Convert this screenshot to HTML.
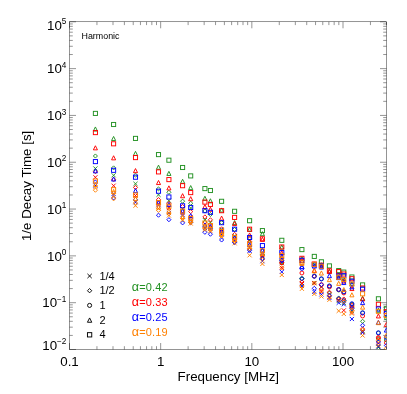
<!DOCTYPE html><html><head><meta charset="utf-8"><style>html,body{margin:0;padding:0;background:#fff;overflow:hidden}svg{position:absolute;left:0;top:0;will-change:transform;-webkit-font-smoothing:antialiased}</style></head><body><svg width="407" height="394" viewBox="0 0 407 394" style="display:block"><rect x="0" y="0" width="407" height="394" fill="#fff"/><g stroke="#000" stroke-width="0.42" fill="none"><rect x="69.5" y="21.8" width="317.0" height="327.7"/><path d="M69.5 349.50h6.5M386.5 349.50h-6.5"/><path d="M69.5 335.41h3.3M386.5 335.41h-3.3"/><path d="M69.5 327.16h3.3M386.5 327.16h-3.3"/><path d="M69.5 321.31h3.3M386.5 321.31h-3.3"/><path d="M69.5 316.78h3.3M386.5 316.78h-3.3"/><path d="M69.5 313.07h3.3M386.5 313.07h-3.3"/><path d="M69.5 309.94h3.3M386.5 309.94h-3.3"/><path d="M69.5 307.22h3.3M386.5 307.22h-3.3"/><path d="M69.5 304.83h3.3M386.5 304.83h-3.3"/><path d="M69.5 302.69h6.5M386.5 302.69h-6.5"/><path d="M69.5 288.59h3.3M386.5 288.59h-3.3"/><path d="M69.5 280.35h3.3M386.5 280.35h-3.3"/><path d="M69.5 274.50h3.3M386.5 274.50h-3.3"/><path d="M69.5 269.96h3.3M386.5 269.96h-3.3"/><path d="M69.5 266.26h3.3M386.5 266.26h-3.3"/><path d="M69.5 263.12h3.3M386.5 263.12h-3.3"/><path d="M69.5 260.41h3.3M386.5 260.41h-3.3"/><path d="M69.5 258.01h3.3M386.5 258.01h-3.3"/><path d="M69.5 255.87h6.5M386.5 255.87h-6.5"/><path d="M69.5 241.78h3.3M386.5 241.78h-3.3"/><path d="M69.5 233.54h3.3M386.5 233.54h-3.3"/><path d="M69.5 227.69h3.3M386.5 227.69h-3.3"/><path d="M69.5 223.15h3.3M386.5 223.15h-3.3"/><path d="M69.5 219.44h3.3M386.5 219.44h-3.3"/><path d="M69.5 216.31h3.3M386.5 216.31h-3.3"/><path d="M69.5 213.59h3.3M386.5 213.59h-3.3"/><path d="M69.5 211.20h3.3M386.5 211.20h-3.3"/><path d="M69.5 209.06h6.5M386.5 209.06h-6.5"/><path d="M69.5 194.96h3.3M386.5 194.96h-3.3"/><path d="M69.5 186.72h3.3M386.5 186.72h-3.3"/><path d="M69.5 180.87h3.3M386.5 180.87h-3.3"/><path d="M69.5 176.34h3.3M386.5 176.34h-3.3"/><path d="M69.5 172.63h3.3M386.5 172.63h-3.3"/><path d="M69.5 169.49h3.3M386.5 169.49h-3.3"/><path d="M69.5 166.78h3.3M386.5 166.78h-3.3"/><path d="M69.5 164.38h3.3M386.5 164.38h-3.3"/><path d="M69.5 162.24h6.5M386.5 162.24h-6.5"/><path d="M69.5 148.15h3.3M386.5 148.15h-3.3"/><path d="M69.5 139.91h3.3M386.5 139.91h-3.3"/><path d="M69.5 134.06h3.3M386.5 134.06h-3.3"/><path d="M69.5 129.52h3.3M386.5 129.52h-3.3"/><path d="M69.5 125.81h3.3M386.5 125.81h-3.3"/><path d="M69.5 122.68h3.3M386.5 122.68h-3.3"/><path d="M69.5 119.97h3.3M386.5 119.97h-3.3"/><path d="M69.5 117.57h3.3M386.5 117.57h-3.3"/><path d="M69.5 115.43h6.5M386.5 115.43h-6.5"/><path d="M69.5 101.34h3.3M386.5 101.34h-3.3"/><path d="M69.5 93.09h3.3M386.5 93.09h-3.3"/><path d="M69.5 87.24h3.3M386.5 87.24h-3.3"/><path d="M69.5 82.71h3.3M386.5 82.71h-3.3"/><path d="M69.5 79.00h3.3M386.5 79.00h-3.3"/><path d="M69.5 75.87h3.3M386.5 75.87h-3.3"/><path d="M69.5 73.15h3.3M386.5 73.15h-3.3"/><path d="M69.5 70.76h3.3M386.5 70.76h-3.3"/><path d="M69.5 68.61h6.5M386.5 68.61h-6.5"/><path d="M69.5 54.52h3.3M386.5 54.52h-3.3"/><path d="M69.5 46.28h3.3M386.5 46.28h-3.3"/><path d="M69.5 40.43h3.3M386.5 40.43h-3.3"/><path d="M69.5 35.89h3.3M386.5 35.89h-3.3"/><path d="M69.5 32.19h3.3M386.5 32.19h-3.3"/><path d="M69.5 29.05h3.3M386.5 29.05h-3.3"/><path d="M69.5 26.34h3.3M386.5 26.34h-3.3"/><path d="M69.5 23.94h3.3M386.5 23.94h-3.3"/><path d="M69.5 21.80h6.5M386.5 21.80h-6.5"/><path d="M69.50 21.8v6.5M69.50 349.5v-6.5"/><path d="M96.94 21.8v3.3M96.94 349.5v-3.3"/><path d="M113.00 21.8v3.3M113.00 349.5v-3.3"/><path d="M124.39 21.8v3.3M124.39 349.5v-3.3"/><path d="M133.22 21.8v3.3M133.22 349.5v-3.3"/><path d="M140.44 21.8v3.3M140.44 349.5v-3.3"/><path d="M146.55 21.8v3.3M146.55 349.5v-3.3"/><path d="M151.83 21.8v3.3M151.83 349.5v-3.3"/><path d="M156.50 21.8v3.3M156.50 349.5v-3.3"/><path d="M160.67 21.8v6.5M160.67 349.5v-6.5"/><path d="M188.11 21.8v3.3M188.11 349.5v-3.3"/><path d="M204.17 21.8v3.3M204.17 349.5v-3.3"/><path d="M215.56 21.8v3.3M215.56 349.5v-3.3"/><path d="M224.39 21.8v3.3M224.39 349.5v-3.3"/><path d="M231.61 21.8v3.3M231.61 349.5v-3.3"/><path d="M237.71 21.8v3.3M237.71 349.5v-3.3"/><path d="M243.00 21.8v3.3M243.00 349.5v-3.3"/><path d="M247.66 21.8v3.3M247.66 349.5v-3.3"/><path d="M251.83 21.8v6.5M251.83 349.5v-6.5"/><path d="M279.28 21.8v3.3M279.28 349.5v-3.3"/><path d="M295.33 21.8v3.3M295.33 349.5v-3.3"/><path d="M306.72 21.8v3.3M306.72 349.5v-3.3"/><path d="M315.56 21.8v3.3M315.56 349.5v-3.3"/><path d="M322.78 21.8v3.3M322.78 349.5v-3.3"/><path d="M328.88 21.8v3.3M328.88 349.5v-3.3"/><path d="M334.17 21.8v3.3M334.17 349.5v-3.3"/><path d="M338.83 21.8v3.3M338.83 349.5v-3.3"/><path d="M343.00 21.8v6.5M343.00 349.5v-6.5"/><path d="M370.45 21.8v3.3M370.45 349.5v-3.3"/><path d="M386.50 21.8v3.3M386.50 349.5v-3.3"/></g><g font-family="Liberation Sans, sans-serif" fill="#000"><text x="69.50" y="366" font-size="13.33" text-anchor="middle">0.1</text><text x="160.67" y="366" font-size="13.33" text-anchor="middle">1</text><text x="251.83" y="366" font-size="13.33" text-anchor="middle">10</text><text x="343.00" y="366" font-size="13.33" text-anchor="middle">100</text><text x="228.3" y="381" font-size="13.33" text-anchor="middle">Frequency [MHz]</text><text transform="translate(31,185.9) rotate(-90)" font-size="13.33" text-anchor="middle">1/e Decay Time [s]</text><text x="66.4" y="349.80" font-size="13.33" text-anchor="end">10<tspan font-size="8.2" dy="-5.7">−2</tspan></text><text x="66.4" y="307.49" font-size="13.33" text-anchor="end">10<tspan font-size="8.2" dy="-5.7">−1</tspan></text><text x="66.4" y="260.67" font-size="13.33" text-anchor="end">10<tspan font-size="8.2" dy="-5.7">0</tspan></text><text x="66.4" y="213.86" font-size="13.33" text-anchor="end">10<tspan font-size="8.2" dy="-5.7">1</tspan></text><text x="66.4" y="167.04" font-size="13.33" text-anchor="end">10<tspan font-size="8.2" dy="-5.7">2</tspan></text><text x="66.4" y="120.23" font-size="13.33" text-anchor="end">10<tspan font-size="8.2" dy="-5.7">3</tspan></text><text x="66.4" y="73.41" font-size="13.33" text-anchor="end">10<tspan font-size="8.2" dy="-5.7">4</tspan></text><text x="66.4" y="29.80" font-size="13.33" text-anchor="end">10<tspan font-size="8.2" dy="-5.7">5</tspan></text><text x="81.5" y="39" font-size="8.9">Harmonic</text><text x="99.4" y="279.80" font-size="11">1/4</text><text x="99.4" y="294.42" font-size="11">1/2</text><text x="99.4" y="309.04" font-size="11">1</text><text x="99.4" y="323.66" font-size="11">2</text><text x="99.4" y="338.28" font-size="11">4</text><text x="131.8" y="290.70" font-size="11" letter-spacing="0.13" fill="#229022"><tspan font-size="12.6">α</tspan>=0.42</text><text x="131.8" y="305.80" font-size="11" letter-spacing="0.13" fill="#ff0000"><tspan font-size="12.6">α</tspan>=0.33</text><text x="131.8" y="320.90" font-size="11" letter-spacing="0.13" fill="#0000ff"><tspan font-size="12.6">α</tspan>=0.25</text><text x="131.8" y="336.00" font-size="11" letter-spacing="0.13" fill="#ff8000"><tspan font-size="12.6">α</tspan>=0.19</text></g><path d="M87.45 273.85L91.75 278.15M87.45 278.15L91.75 273.85" stroke="#000" stroke-width="0.95" fill="none"/><path d="M87.45 290.70L89.60 288.55L91.75 290.70L89.60 292.85z" stroke="#000" stroke-width="0.95" fill="none"/><circle cx="89.60" cy="305.40" r="2.04" stroke="#000" stroke-width="0.95" fill="none"/><path d="M87.45 322.25h4.30L89.60 317.95z" stroke="#000" stroke-width="0.95" fill="none"/><rect x="87.45" y="332.65" width="4.30" height="4.30" stroke="#000" stroke-width="0.95" fill="none"/><clipPath id="cp"><rect x="69.5" y="21.8" width="317.0" height="327.7"/></clipPath><g clip-path="url(#cp)"><path d="M93.35 166.45L97.45 170.55M93.35 170.55L97.45 166.45" stroke="#229022" stroke-width="0.95" fill="none"/><path d="M111.55 173.25L115.65 177.35M111.55 177.35L115.65 173.25" stroke="#229022" stroke-width="0.95" fill="none"/><path d="M133.45 181.75L137.55 185.85M133.45 185.85L137.55 181.75" stroke="#229022" stroke-width="0.95" fill="none"/><path d="M156.45 192.75L160.55 196.85M156.45 196.85L160.55 192.75" stroke="#229022" stroke-width="0.95" fill="none"/><path d="M166.85 198.65L170.95 202.75M166.85 202.75L170.95 198.65" stroke="#229022" stroke-width="0.95" fill="none"/><path d="M180.55 206.85L184.65 210.95M180.55 210.95L184.65 206.85" stroke="#229022" stroke-width="0.95" fill="none"/><path d="M188.65 205.95L192.75 210.05M188.65 210.05L192.75 205.95" stroke="#229022" stroke-width="0.95" fill="none"/><path d="M202.85 218.05L206.95 222.15M202.85 222.15L206.95 218.05" stroke="#229022" stroke-width="0.95" fill="none"/><path d="M208.35 220.75L212.45 224.85M208.35 224.85L212.45 220.75" stroke="#229022" stroke-width="0.95" fill="none"/><path d="M219.55 227.45L223.65 231.55M219.55 231.55L223.65 227.45" stroke="#229022" stroke-width="0.95" fill="none"/><path d="M232.55 233.95L236.65 238.05M232.55 238.05L236.65 233.95" stroke="#229022" stroke-width="0.95" fill="none"/><path d="M247.55 238.55L251.65 242.65M247.55 242.65L251.65 238.55" stroke="#229022" stroke-width="0.95" fill="none"/><path d="M260.35 253.95L264.45 258.05M260.35 258.05L264.45 253.95" stroke="#229022" stroke-width="0.95" fill="none"/><path d="M279.75 260.95L283.85 265.05M279.75 265.05L283.85 260.95" stroke="#229022" stroke-width="0.95" fill="none"/><path d="M299.85 281.95L303.95 286.05M299.85 286.05L303.95 281.95" stroke="#229022" stroke-width="0.95" fill="none"/><path d="M312.25 280.95L316.35 285.05M312.25 285.05L316.35 280.95" stroke="#229022" stroke-width="0.95" fill="none"/><path d="M319.35 284.75L323.45 288.85M319.35 288.85L323.45 284.75" stroke="#229022" stroke-width="0.95" fill="none"/><path d="M336.65 298.95L340.75 303.05M336.65 303.05L340.75 298.95" stroke="#229022" stroke-width="0.95" fill="none"/><path d="M341.75 300.95L345.85 305.05M341.75 305.05L345.85 300.95" stroke="#229022" stroke-width="0.95" fill="none"/><path d="M349.85 308.95L353.95 313.05M349.85 313.05L353.95 308.95" stroke="#229022" stroke-width="0.95" fill="none"/><path d="M360.55 328.95L364.65 333.05M360.55 333.05L364.65 328.95" stroke="#229022" stroke-width="0.95" fill="none"/><path d="M376.35 345.35L380.45 349.45M376.35 349.45L380.45 345.35" stroke="#229022" stroke-width="0.95" fill="none"/><path d="M93.35 156.00L95.40 153.95L97.45 156.00L95.40 158.05z" stroke="#229022" stroke-width="0.95" fill="none"/><path d="M111.55 167.90L113.60 165.85L115.65 167.90L113.60 169.95z" stroke="#229022" stroke-width="0.95" fill="none"/><path d="M133.45 175.20L135.50 173.15L137.55 175.20L135.50 177.25z" stroke="#229022" stroke-width="0.95" fill="none"/><path d="M156.45 188.90L158.50 186.85L160.55 188.90L158.50 190.95z" stroke="#229022" stroke-width="0.95" fill="none"/><path d="M166.85 192.30L168.90 190.25L170.95 192.30L168.90 194.35z" stroke="#229022" stroke-width="0.95" fill="none"/><path d="M180.55 201.20L182.60 199.15L184.65 201.20L182.60 203.25z" stroke="#229022" stroke-width="0.95" fill="none"/><path d="M188.65 203.30L190.70 201.25L192.75 203.30L190.70 205.35z" stroke="#229022" stroke-width="0.95" fill="none"/><path d="M202.85 211.00L204.90 208.95L206.95 211.00L204.90 213.05z" stroke="#229022" stroke-width="0.95" fill="none"/><path d="M208.35 214.50L210.40 212.45L212.45 214.50L210.40 216.55z" stroke="#229022" stroke-width="0.95" fill="none"/><path d="M219.55 222.70L221.60 220.65L223.65 222.70L221.60 224.75z" stroke="#229022" stroke-width="0.95" fill="none"/><path d="M232.55 229.50L234.60 227.45L236.65 229.50L234.60 231.55z" stroke="#229022" stroke-width="0.95" fill="none"/><path d="M247.55 238.00L249.60 235.95L251.65 238.00L249.60 240.05z" stroke="#229022" stroke-width="0.95" fill="none"/><path d="M260.35 254.50L262.40 252.45L264.45 254.50L262.40 256.55z" stroke="#229022" stroke-width="0.95" fill="none"/><path d="M279.75 262.80L281.80 260.75L283.85 262.80L281.80 264.85z" stroke="#229022" stroke-width="0.95" fill="none"/><path d="M299.85 278.90L301.90 276.85L303.95 278.90L301.90 280.95z" stroke="#229022" stroke-width="0.95" fill="none"/><path d="M327.35 293.00L329.40 290.95L331.45 293.00L329.40 295.05z" stroke="#229022" stroke-width="0.95" fill="none"/><path d="M336.65 298.00L338.70 295.95L340.75 298.00L338.70 300.05z" stroke="#229022" stroke-width="0.95" fill="none"/><path d="M341.75 300.50L343.80 298.45L345.85 300.50L343.80 302.55z" stroke="#229022" stroke-width="0.95" fill="none"/><path d="M349.85 306.80L351.90 304.75L353.95 306.80L351.90 308.85z" stroke="#229022" stroke-width="0.95" fill="none"/><path d="M360.55 321.30L362.60 319.25L364.65 321.30L362.60 323.35z" stroke="#229022" stroke-width="0.95" fill="none"/><path d="M376.35 339.00L378.40 336.95L380.45 339.00L378.40 341.05z" stroke="#229022" stroke-width="0.95" fill="none"/><circle cx="301.90" cy="278.60" r="1.95" stroke="#229022" stroke-width="0.95" fill="none"/><circle cx="314.30" cy="276.00" r="1.95" stroke="#229022" stroke-width="0.95" fill="none"/><circle cx="321.40" cy="278.90" r="1.95" stroke="#229022" stroke-width="0.95" fill="none"/><circle cx="329.40" cy="286.00" r="1.95" stroke="#229022" stroke-width="0.95" fill="none"/><circle cx="338.70" cy="290.00" r="1.95" stroke="#229022" stroke-width="0.95" fill="none"/><circle cx="343.80" cy="291.90" r="1.95" stroke="#229022" stroke-width="0.95" fill="none"/><circle cx="351.90" cy="304.30" r="1.95" stroke="#229022" stroke-width="0.95" fill="none"/><circle cx="362.60" cy="312.90" r="1.95" stroke="#229022" stroke-width="0.95" fill="none"/><circle cx="378.40" cy="333.00" r="1.95" stroke="#229022" stroke-width="0.95" fill="none"/><circle cx="386.40" cy="339.90" r="1.95" stroke="#229022" stroke-width="0.95" fill="none"/><path d="M93.35 131.05h4.10L95.40 126.95z" stroke="#229022" stroke-width="0.95" fill="none"/><path d="M111.55 140.55h4.10L113.60 136.45z" stroke="#229022" stroke-width="0.95" fill="none"/><path d="M133.45 155.45h4.10L135.50 151.35z" stroke="#229022" stroke-width="0.95" fill="none"/><path d="M156.45 169.25h4.10L158.50 165.15z" stroke="#229022" stroke-width="0.95" fill="none"/><path d="M166.85 175.45h4.10L168.90 171.35z" stroke="#229022" stroke-width="0.95" fill="none"/><path d="M180.55 183.35h4.10L182.60 179.25z" stroke="#229022" stroke-width="0.95" fill="none"/><path d="M188.65 189.65h4.10L190.70 185.55z" stroke="#229022" stroke-width="0.95" fill="none"/><path d="M202.85 200.35h4.10L204.90 196.25z" stroke="#229022" stroke-width="0.95" fill="none"/><path d="M208.35 202.85h4.10L210.40 198.75z" stroke="#229022" stroke-width="0.95" fill="none"/><path d="M219.55 212.05h4.10L221.60 207.95z" stroke="#229022" stroke-width="0.95" fill="none"/><path d="M232.55 224.65h4.10L234.60 220.55z" stroke="#229022" stroke-width="0.95" fill="none"/><path d="M247.55 231.35h4.10L249.60 227.25z" stroke="#229022" stroke-width="0.95" fill="none"/><path d="M260.35 235.75h4.10L262.40 231.65z" stroke="#229022" stroke-width="0.95" fill="none"/><path d="M279.75 249.05h4.10L281.80 244.95z" stroke="#229022" stroke-width="0.95" fill="none"/><path d="M299.85 260.55h4.10L301.90 256.45z" stroke="#229022" stroke-width="0.95" fill="none"/><path d="M312.25 266.05h4.10L314.30 261.95z" stroke="#229022" stroke-width="0.95" fill="none"/><path d="M319.35 266.85h4.10L321.40 262.75z" stroke="#229022" stroke-width="0.95" fill="none"/><path d="M327.35 273.05h4.10L329.40 268.95z" stroke="#229022" stroke-width="0.95" fill="none"/><path d="M336.65 277.05h4.10L338.70 272.95z" stroke="#229022" stroke-width="0.95" fill="none"/><path d="M341.75 281.05h4.10L343.80 276.95z" stroke="#229022" stroke-width="0.95" fill="none"/><path d="M349.85 285.85h4.10L351.90 281.75z" stroke="#229022" stroke-width="0.95" fill="none"/><path d="M360.55 300.35h4.10L362.60 296.25z" stroke="#229022" stroke-width="0.95" fill="none"/><path d="M376.35 312.25h4.10L378.40 308.15z" stroke="#229022" stroke-width="0.95" fill="none"/><path d="M384.35 319.55h4.10L386.40 315.45z" stroke="#229022" stroke-width="0.95" fill="none"/><rect x="93.35" y="111.35" width="4.10" height="4.10" stroke="#229022" stroke-width="0.95" fill="none"/><rect x="111.55" y="122.45" width="4.10" height="4.10" stroke="#229022" stroke-width="0.95" fill="none"/><rect x="133.45" y="136.35" width="4.10" height="4.10" stroke="#229022" stroke-width="0.95" fill="none"/><rect x="156.45" y="152.55" width="4.10" height="4.10" stroke="#229022" stroke-width="0.95" fill="none"/><rect x="166.85" y="158.15" width="4.10" height="4.10" stroke="#229022" stroke-width="0.95" fill="none"/><rect x="180.55" y="165.45" width="4.10" height="4.10" stroke="#229022" stroke-width="0.95" fill="none"/><rect x="188.65" y="173.85" width="4.10" height="4.10" stroke="#229022" stroke-width="0.95" fill="none"/><rect x="202.85" y="186.55" width="4.10" height="4.10" stroke="#229022" stroke-width="0.95" fill="none"/><rect x="208.35" y="188.45" width="4.10" height="4.10" stroke="#229022" stroke-width="0.95" fill="none"/><rect x="219.55" y="199.25" width="4.10" height="4.10" stroke="#229022" stroke-width="0.95" fill="none"/><rect x="232.55" y="209.25" width="4.10" height="4.10" stroke="#229022" stroke-width="0.95" fill="none"/><rect x="247.55" y="218.65" width="4.10" height="4.10" stroke="#229022" stroke-width="0.95" fill="none"/><rect x="260.35" y="228.55" width="4.10" height="4.10" stroke="#229022" stroke-width="0.95" fill="none"/><rect x="279.75" y="238.25" width="4.10" height="4.10" stroke="#229022" stroke-width="0.95" fill="none"/><rect x="299.85" y="247.55" width="4.10" height="4.10" stroke="#229022" stroke-width="0.95" fill="none"/><rect x="312.25" y="254.35" width="4.10" height="4.10" stroke="#229022" stroke-width="0.95" fill="none"/><rect x="319.35" y="259.75" width="4.10" height="4.10" stroke="#229022" stroke-width="0.95" fill="none"/><rect x="327.35" y="263.85" width="4.10" height="4.10" stroke="#229022" stroke-width="0.95" fill="none"/><rect x="336.65" y="268.55" width="4.10" height="4.10" stroke="#229022" stroke-width="0.95" fill="none"/><rect x="341.75" y="270.05" width="4.10" height="4.10" stroke="#229022" stroke-width="0.95" fill="none"/><rect x="349.85" y="274.95" width="4.10" height="4.10" stroke="#229022" stroke-width="0.95" fill="none"/><rect x="360.55" y="282.85" width="4.10" height="4.10" stroke="#229022" stroke-width="0.95" fill="none"/><rect x="376.35" y="296.75" width="4.10" height="4.10" stroke="#229022" stroke-width="0.95" fill="none"/><rect x="384.35" y="306.65" width="4.10" height="4.10" stroke="#229022" stroke-width="0.95" fill="none"/><path d="M93.35 175.25L97.45 179.35M93.35 179.35L97.45 175.25" stroke="#ff0000" stroke-width="0.95" fill="none"/><path d="M111.55 183.65L115.65 187.75M111.55 187.75L115.65 183.65" stroke="#ff0000" stroke-width="0.95" fill="none"/><path d="M133.45 193.45L137.55 197.55M133.45 197.55L137.55 193.45" stroke="#ff0000" stroke-width="0.95" fill="none"/><path d="M156.45 201.95L160.55 206.05M156.45 206.05L160.55 201.95" stroke="#ff0000" stroke-width="0.95" fill="none"/><path d="M166.85 205.95L170.95 210.05M166.85 210.05L170.95 205.95" stroke="#ff0000" stroke-width="0.95" fill="none"/><path d="M180.55 210.95L184.65 215.05M180.55 215.05L184.65 210.95" stroke="#ff0000" stroke-width="0.95" fill="none"/><path d="M188.65 214.95L192.75 219.05M188.65 219.05L192.75 214.95" stroke="#ff0000" stroke-width="0.95" fill="none"/><path d="M202.85 221.95L206.95 226.05M202.85 226.05L206.95 221.95" stroke="#ff0000" stroke-width="0.95" fill="none"/><path d="M208.35 223.95L212.45 228.05M208.35 228.05L212.45 223.95" stroke="#ff0000" stroke-width="0.95" fill="none"/><path d="M219.55 229.95L223.65 234.05M219.55 234.05L223.65 229.95" stroke="#ff0000" stroke-width="0.95" fill="none"/><path d="M232.55 236.95L236.65 241.05M232.55 241.05L236.65 236.95" stroke="#ff0000" stroke-width="0.95" fill="none"/><path d="M247.55 245.45L251.65 249.55M247.55 249.55L251.65 245.45" stroke="#ff0000" stroke-width="0.95" fill="none"/><path d="M260.35 255.45L264.45 259.55M260.35 259.55L264.45 255.45" stroke="#ff0000" stroke-width="0.95" fill="none"/><path d="M279.75 265.75L283.85 269.85M279.75 269.85L283.85 265.75" stroke="#ff0000" stroke-width="0.95" fill="none"/><path d="M299.85 281.15L303.95 285.25M299.85 285.25L303.95 281.15" stroke="#ff0000" stroke-width="0.95" fill="none"/><path d="M312.25 281.15L316.35 285.25M312.25 285.25L316.35 281.15" stroke="#ff0000" stroke-width="0.95" fill="none"/><path d="M319.35 289.75L323.45 293.85M319.35 293.85L323.45 289.75" stroke="#ff0000" stroke-width="0.95" fill="none"/><path d="M327.35 294.95L331.45 299.05M327.35 299.05L331.45 294.95" stroke="#ff0000" stroke-width="0.95" fill="none"/><path d="M336.65 297.95L340.75 302.05M336.65 302.05L340.75 297.95" stroke="#ff0000" stroke-width="0.95" fill="none"/><path d="M341.75 308.35L345.85 312.45M341.75 312.45L345.85 308.35" stroke="#ff0000" stroke-width="0.95" fill="none"/><path d="M349.85 310.45L353.95 314.55M349.85 314.55L353.95 310.45" stroke="#ff0000" stroke-width="0.95" fill="none"/><path d="M360.55 329.95L364.65 334.05M360.55 334.05L364.65 329.95" stroke="#ff0000" stroke-width="0.95" fill="none"/><path d="M376.35 341.15L380.45 345.25M376.35 345.25L380.45 341.15" stroke="#ff0000" stroke-width="0.95" fill="none"/><path d="M93.35 171.60L95.40 169.55L97.45 171.60L95.40 173.65z" stroke="#ff0000" stroke-width="0.95" fill="none"/><path d="M111.55 179.30L113.60 177.25L115.65 179.30L113.60 181.35z" stroke="#ff0000" stroke-width="0.95" fill="none"/><path d="M133.45 187.50L135.50 185.45L137.55 187.50L135.50 189.55z" stroke="#ff0000" stroke-width="0.95" fill="none"/><path d="M156.45 199.60L158.50 197.55L160.55 199.60L158.50 201.65z" stroke="#ff0000" stroke-width="0.95" fill="none"/><path d="M166.85 203.50L168.90 201.45L170.95 203.50L168.90 205.55z" stroke="#ff0000" stroke-width="0.95" fill="none"/><path d="M180.55 206.50L182.60 204.45L184.65 206.50L182.60 208.55z" stroke="#ff0000" stroke-width="0.95" fill="none"/><path d="M188.65 211.60L190.70 209.55L192.75 211.60L190.70 213.65z" stroke="#ff0000" stroke-width="0.95" fill="none"/><path d="M202.85 216.90L204.90 214.85L206.95 216.90L204.90 218.95z" stroke="#ff0000" stroke-width="0.95" fill="none"/><path d="M208.35 219.80L210.40 217.75L212.45 219.80L210.40 221.85z" stroke="#ff0000" stroke-width="0.95" fill="none"/><path d="M219.55 228.80L221.60 226.75L223.65 228.80L221.60 230.85z" stroke="#ff0000" stroke-width="0.95" fill="none"/><path d="M232.55 234.40L234.60 232.35L236.65 234.40L234.60 236.45z" stroke="#ff0000" stroke-width="0.95" fill="none"/><path d="M247.55 241.50L249.60 239.45L251.65 241.50L249.60 243.55z" stroke="#ff0000" stroke-width="0.95" fill="none"/><path d="M260.35 256.00L262.40 253.95L264.45 256.00L262.40 258.05z" stroke="#ff0000" stroke-width="0.95" fill="none"/><path d="M279.75 263.00L281.80 260.95L283.85 263.00L281.80 265.05z" stroke="#ff0000" stroke-width="0.95" fill="none"/><path d="M299.85 282.00L301.90 279.95L303.95 282.00L301.90 284.05z" stroke="#ff0000" stroke-width="0.95" fill="none"/><path d="M312.25 276.30L314.30 274.25L316.35 276.30L314.30 278.35z" stroke="#ff0000" stroke-width="0.95" fill="none"/><path d="M319.35 289.00L321.40 286.95L323.45 289.00L321.40 291.05z" stroke="#ff0000" stroke-width="0.95" fill="none"/><path d="M327.35 292.20L329.40 290.15L331.45 292.20L329.40 294.25z" stroke="#ff0000" stroke-width="0.95" fill="none"/><path d="M336.65 299.00L338.70 296.95L340.75 299.00L338.70 301.05z" stroke="#ff0000" stroke-width="0.95" fill="none"/><path d="M341.75 299.00L343.80 296.95L345.85 299.00L343.80 301.05z" stroke="#ff0000" stroke-width="0.95" fill="none"/><path d="M349.85 307.50L351.90 305.45L353.95 307.50L351.90 309.55z" stroke="#ff0000" stroke-width="0.95" fill="none"/><path d="M360.55 329.00L362.60 326.95L364.65 329.00L362.60 331.05z" stroke="#ff0000" stroke-width="0.95" fill="none"/><path d="M376.35 338.00L378.40 335.95L380.45 338.00L378.40 340.05z" stroke="#ff0000" stroke-width="0.95" fill="none"/><circle cx="281.80" cy="262.80" r="1.95" stroke="#ff0000" stroke-width="0.95" fill="none"/><circle cx="301.90" cy="273.00" r="1.95" stroke="#ff0000" stroke-width="0.95" fill="none"/><circle cx="321.40" cy="284.70" r="1.95" stroke="#ff0000" stroke-width="0.95" fill="none"/><circle cx="329.40" cy="287.00" r="1.95" stroke="#ff0000" stroke-width="0.95" fill="none"/><circle cx="338.70" cy="289.50" r="1.95" stroke="#ff0000" stroke-width="0.95" fill="none"/><circle cx="343.80" cy="293.00" r="1.95" stroke="#ff0000" stroke-width="0.95" fill="none"/><circle cx="351.90" cy="305.50" r="1.95" stroke="#ff0000" stroke-width="0.95" fill="none"/><circle cx="362.60" cy="316.00" r="1.95" stroke="#ff0000" stroke-width="0.95" fill="none"/><circle cx="378.40" cy="337.50" r="1.95" stroke="#ff0000" stroke-width="0.95" fill="none"/><circle cx="386.40" cy="342.70" r="1.95" stroke="#ff0000" stroke-width="0.95" fill="none"/><path d="M93.35 149.85h4.10L95.40 145.75z" stroke="#ff0000" stroke-width="0.95" fill="none"/><path d="M111.55 159.85h4.10L113.60 155.75z" stroke="#ff0000" stroke-width="0.95" fill="none"/><path d="M133.45 172.65h4.10L135.50 168.55z" stroke="#ff0000" stroke-width="0.95" fill="none"/><path d="M156.45 184.55h4.10L158.50 180.45z" stroke="#ff0000" stroke-width="0.95" fill="none"/><path d="M166.85 189.95h4.10L168.90 185.85z" stroke="#ff0000" stroke-width="0.95" fill="none"/><path d="M180.55 197.75h4.10L182.60 193.65z" stroke="#ff0000" stroke-width="0.95" fill="none"/><path d="M188.65 200.75h4.10L190.70 196.65z" stroke="#ff0000" stroke-width="0.95" fill="none"/><path d="M202.85 208.65h4.10L204.90 204.55z" stroke="#ff0000" stroke-width="0.95" fill="none"/><path d="M208.35 211.25h4.10L210.40 207.15z" stroke="#ff0000" stroke-width="0.95" fill="none"/><path d="M219.55 220.15h4.10L221.60 216.05z" stroke="#ff0000" stroke-width="0.95" fill="none"/><path d="M232.55 225.55h4.10L234.60 221.45z" stroke="#ff0000" stroke-width="0.95" fill="none"/><path d="M247.55 237.05h4.10L249.60 232.95z" stroke="#ff0000" stroke-width="0.95" fill="none"/><path d="M260.35 241.35h4.10L262.40 237.25z" stroke="#ff0000" stroke-width="0.95" fill="none"/><path d="M279.75 254.85h4.10L281.80 250.75z" stroke="#ff0000" stroke-width="0.95" fill="none"/><path d="M299.85 262.55h4.10L301.90 258.45z" stroke="#ff0000" stroke-width="0.95" fill="none"/><path d="M312.25 272.35h4.10L314.30 268.25z" stroke="#ff0000" stroke-width="0.95" fill="none"/><path d="M319.35 268.05h4.10L321.40 263.95z" stroke="#ff0000" stroke-width="0.95" fill="none"/><path d="M327.35 273.55h4.10L329.40 269.45z" stroke="#ff0000" stroke-width="0.95" fill="none"/><path d="M336.65 279.25h4.10L338.70 275.15z" stroke="#ff0000" stroke-width="0.95" fill="none"/><path d="M341.75 283.05h4.10L343.80 278.95z" stroke="#ff0000" stroke-width="0.95" fill="none"/><path d="M349.85 290.55h4.10L351.90 286.45z" stroke="#ff0000" stroke-width="0.95" fill="none"/><path d="M360.55 300.85h4.10L362.60 296.75z" stroke="#ff0000" stroke-width="0.95" fill="none"/><path d="M376.35 317.95h4.10L378.40 313.85z" stroke="#ff0000" stroke-width="0.95" fill="none"/><path d="M384.35 326.45h4.10L386.40 322.35z" stroke="#ff0000" stroke-width="0.95" fill="none"/><rect x="93.35" y="130.55" width="4.10" height="4.10" stroke="#ff0000" stroke-width="0.95" fill="none"/><rect x="111.55" y="141.75" width="4.10" height="4.10" stroke="#ff0000" stroke-width="0.95" fill="none"/><rect x="133.45" y="155.55" width="4.10" height="4.10" stroke="#ff0000" stroke-width="0.95" fill="none"/><rect x="156.45" y="169.85" width="4.10" height="4.10" stroke="#ff0000" stroke-width="0.95" fill="none"/><rect x="166.85" y="177.55" width="4.10" height="4.10" stroke="#ff0000" stroke-width="0.95" fill="none"/><rect x="180.55" y="183.65" width="4.10" height="4.10" stroke="#ff0000" stroke-width="0.95" fill="none"/><rect x="188.65" y="190.55" width="4.10" height="4.10" stroke="#ff0000" stroke-width="0.95" fill="none"/><rect x="202.85" y="200.05" width="4.10" height="4.10" stroke="#ff0000" stroke-width="0.95" fill="none"/><rect x="208.35" y="202.35" width="4.10" height="4.10" stroke="#ff0000" stroke-width="0.95" fill="none"/><rect x="219.55" y="208.65" width="4.10" height="4.10" stroke="#ff0000" stroke-width="0.95" fill="none"/><rect x="232.55" y="215.35" width="4.10" height="4.10" stroke="#ff0000" stroke-width="0.95" fill="none"/><rect x="247.55" y="227.15" width="4.10" height="4.10" stroke="#ff0000" stroke-width="0.95" fill="none"/><rect x="260.35" y="236.75" width="4.10" height="4.10" stroke="#ff0000" stroke-width="0.95" fill="none"/><rect x="279.75" y="244.95" width="4.10" height="4.10" stroke="#ff0000" stroke-width="0.95" fill="none"/><rect x="299.85" y="256.25" width="4.10" height="4.10" stroke="#ff0000" stroke-width="0.95" fill="none"/><rect x="312.25" y="261.95" width="4.10" height="4.10" stroke="#ff0000" stroke-width="0.95" fill="none"/><rect x="319.35" y="263.15" width="4.10" height="4.10" stroke="#ff0000" stroke-width="0.95" fill="none"/><rect x="327.35" y="268.75" width="4.10" height="4.10" stroke="#ff0000" stroke-width="0.95" fill="none"/><rect x="336.65" y="269.55" width="4.10" height="4.10" stroke="#ff0000" stroke-width="0.95" fill="none"/><rect x="341.75" y="271.95" width="4.10" height="4.10" stroke="#ff0000" stroke-width="0.95" fill="none"/><rect x="349.85" y="276.65" width="4.10" height="4.10" stroke="#ff0000" stroke-width="0.95" fill="none"/><rect x="360.55" y="285.95" width="4.10" height="4.10" stroke="#ff0000" stroke-width="0.95" fill="none"/><rect x="376.35" y="302.25" width="4.10" height="4.10" stroke="#ff0000" stroke-width="0.95" fill="none"/><rect x="384.35" y="309.65" width="4.10" height="4.10" stroke="#ff0000" stroke-width="0.95" fill="none"/><path d="M93.35 183.45L97.45 187.55M93.35 187.55L97.45 183.45" stroke="#0000ff" stroke-width="0.95" fill="none"/><path d="M111.55 191.95L115.65 196.05M111.55 196.05L115.65 191.95" stroke="#0000ff" stroke-width="0.95" fill="none"/><path d="M133.45 200.15L137.55 204.25M133.45 204.25L137.55 200.15" stroke="#0000ff" stroke-width="0.95" fill="none"/><path d="M156.45 203.15L160.55 207.25M156.45 207.25L160.55 203.15" stroke="#0000ff" stroke-width="0.95" fill="none"/><path d="M166.85 210.95L170.95 215.05M166.85 215.05L170.95 210.95" stroke="#0000ff" stroke-width="0.95" fill="none"/><path d="M180.55 212.95L184.65 217.05M180.55 217.05L184.65 212.95" stroke="#0000ff" stroke-width="0.95" fill="none"/><path d="M188.65 218.45L192.75 222.55M188.65 222.55L192.75 218.45" stroke="#0000ff" stroke-width="0.95" fill="none"/><path d="M202.85 225.95L206.95 230.05M202.85 230.05L206.95 225.95" stroke="#0000ff" stroke-width="0.95" fill="none"/><path d="M208.35 226.95L212.45 231.05M208.35 231.05L212.45 226.95" stroke="#0000ff" stroke-width="0.95" fill="none"/><path d="M219.55 232.45L223.65 236.55M219.55 236.55L223.65 232.45" stroke="#0000ff" stroke-width="0.95" fill="none"/><path d="M232.55 238.95L236.65 243.05M232.55 243.05L236.65 238.95" stroke="#0000ff" stroke-width="0.95" fill="none"/><path d="M247.55 248.85L251.65 252.95M247.55 252.95L251.65 248.85" stroke="#0000ff" stroke-width="0.95" fill="none"/><path d="M260.35 259.15L264.45 263.25M260.35 263.25L264.45 259.15" stroke="#0000ff" stroke-width="0.95" fill="none"/><path d="M279.75 269.85L283.85 273.95M279.75 273.95L283.85 269.85" stroke="#0000ff" stroke-width="0.95" fill="none"/><path d="M299.85 283.95L303.95 288.05M299.85 288.05L303.95 283.95" stroke="#0000ff" stroke-width="0.95" fill="none"/><path d="M312.25 289.75L316.35 293.85M312.25 293.85L316.35 289.75" stroke="#0000ff" stroke-width="0.95" fill="none"/><path d="M319.35 292.35L323.45 296.45M319.35 296.45L323.45 292.35" stroke="#0000ff" stroke-width="0.95" fill="none"/><path d="M327.35 295.95L331.45 300.05M327.35 300.05L331.45 295.95" stroke="#0000ff" stroke-width="0.95" fill="none"/><path d="M336.65 300.75L340.75 304.85M336.65 304.85L340.75 300.75" stroke="#0000ff" stroke-width="0.95" fill="none"/><path d="M341.75 302.25L345.85 306.35M341.75 306.35L345.85 302.25" stroke="#0000ff" stroke-width="0.95" fill="none"/><path d="M349.85 316.95L353.95 321.05M349.85 321.05L353.95 316.95" stroke="#0000ff" stroke-width="0.95" fill="none"/><path d="M360.55 330.35L364.65 334.45M360.55 334.45L364.65 330.35" stroke="#0000ff" stroke-width="0.95" fill="none"/><path d="M376.35 344.45L380.45 348.55M376.35 348.55L380.45 344.45" stroke="#0000ff" stroke-width="0.95" fill="none"/><path d="M93.35 182.00L95.40 179.95L97.45 182.00L95.40 184.05z" stroke="#0000ff" stroke-width="0.95" fill="none"/><path d="M111.55 198.00L113.60 195.95L115.65 198.00L113.60 200.05z" stroke="#0000ff" stroke-width="0.95" fill="none"/><path d="M133.45 199.50L135.50 197.45L137.55 199.50L135.50 201.55z" stroke="#0000ff" stroke-width="0.95" fill="none"/><path d="M156.45 215.20L158.50 213.15L160.55 215.20L158.50 217.25z" stroke="#0000ff" stroke-width="0.95" fill="none"/><path d="M166.85 219.70L168.90 217.65L170.95 219.70L168.90 221.75z" stroke="#0000ff" stroke-width="0.95" fill="none"/><path d="M180.55 222.90L182.60 220.85L184.65 222.90L182.60 224.95z" stroke="#0000ff" stroke-width="0.95" fill="none"/><path d="M188.65 222.50L190.70 220.45L192.75 222.50L190.70 224.55z" stroke="#0000ff" stroke-width="0.95" fill="none"/><path d="M202.85 232.30L204.90 230.25L206.95 232.30L204.90 234.35z" stroke="#0000ff" stroke-width="0.95" fill="none"/><path d="M208.35 234.20L210.40 232.15L212.45 234.20L210.40 236.25z" stroke="#0000ff" stroke-width="0.95" fill="none"/><path d="M219.55 240.00L221.60 237.95L223.65 240.00L221.60 242.05z" stroke="#0000ff" stroke-width="0.95" fill="none"/><path d="M232.55 242.50L234.60 240.45L236.65 242.50L234.60 244.55z" stroke="#0000ff" stroke-width="0.95" fill="none"/><path d="M247.55 250.40L249.60 248.35L251.65 250.40L249.60 252.45z" stroke="#0000ff" stroke-width="0.95" fill="none"/><path d="M260.35 258.50L262.40 256.45L264.45 258.50L262.40 260.55z" stroke="#0000ff" stroke-width="0.95" fill="none"/><path d="M279.75 260.80L281.80 258.75L283.85 260.80L281.80 262.85z" stroke="#0000ff" stroke-width="0.95" fill="none"/><path d="M299.85 278.60L301.90 276.55L303.95 278.60L301.90 280.65z" stroke="#0000ff" stroke-width="0.95" fill="none"/><path d="M312.25 288.30L314.30 286.25L316.35 288.30L314.30 290.35z" stroke="#0000ff" stroke-width="0.95" fill="none"/><path d="M319.35 284.70L321.40 282.65L323.45 284.70L321.40 286.75z" stroke="#0000ff" stroke-width="0.95" fill="none"/><path d="M327.35 295.30L329.40 293.25L331.45 295.30L329.40 297.35z" stroke="#0000ff" stroke-width="0.95" fill="none"/><path d="M336.65 298.50L338.70 296.45L340.75 298.50L338.70 300.55z" stroke="#0000ff" stroke-width="0.95" fill="none"/><path d="M341.75 300.50L343.80 298.45L345.85 300.50L343.80 302.55z" stroke="#0000ff" stroke-width="0.95" fill="none"/><path d="M349.85 308.50L351.90 306.45L353.95 308.50L351.90 310.55z" stroke="#0000ff" stroke-width="0.95" fill="none"/><path d="M360.55 325.30L362.60 323.25L364.65 325.30L362.60 327.35z" stroke="#0000ff" stroke-width="0.95" fill="none"/><path d="M376.35 342.00L378.40 339.95L380.45 342.00L378.40 344.05z" stroke="#0000ff" stroke-width="0.95" fill="none"/><path d="M384.35 345.50L386.40 343.45L388.45 345.50L386.40 347.55z" stroke="#0000ff" stroke-width="0.95" fill="none"/><circle cx="262.40" cy="251.20" r="1.95" stroke="#0000ff" stroke-width="0.95" fill="none"/><circle cx="281.80" cy="260.20" r="1.95" stroke="#0000ff" stroke-width="0.95" fill="none"/><circle cx="301.90" cy="268.40" r="1.95" stroke="#0000ff" stroke-width="0.95" fill="none"/><circle cx="314.30" cy="276.30" r="1.95" stroke="#0000ff" stroke-width="0.95" fill="none"/><circle cx="321.40" cy="278.90" r="1.95" stroke="#0000ff" stroke-width="0.95" fill="none"/><circle cx="329.40" cy="286.00" r="1.95" stroke="#0000ff" stroke-width="0.95" fill="none"/><circle cx="338.70" cy="289.50" r="1.95" stroke="#0000ff" stroke-width="0.95" fill="none"/><circle cx="343.80" cy="291.90" r="1.95" stroke="#0000ff" stroke-width="0.95" fill="none"/><circle cx="351.90" cy="303.70" r="1.95" stroke="#0000ff" stroke-width="0.95" fill="none"/><circle cx="362.60" cy="312.90" r="1.95" stroke="#0000ff" stroke-width="0.95" fill="none"/><circle cx="378.40" cy="332.80" r="1.95" stroke="#0000ff" stroke-width="0.95" fill="none"/><circle cx="386.40" cy="337.50" r="1.95" stroke="#0000ff" stroke-width="0.95" fill="none"/><path d="M93.35 172.85h4.10L95.40 168.75z" stroke="#0000ff" stroke-width="0.95" fill="none"/><path d="M111.55 181.05h4.10L113.60 176.95z" stroke="#0000ff" stroke-width="0.95" fill="none"/><path d="M133.45 192.65h4.10L135.50 188.55z" stroke="#0000ff" stroke-width="0.95" fill="none"/><path d="M156.45 204.25h4.10L158.50 200.15z" stroke="#0000ff" stroke-width="0.95" fill="none"/><path d="M166.85 206.55h4.10L168.90 202.45z" stroke="#0000ff" stroke-width="0.95" fill="none"/><path d="M180.55 213.05h4.10L182.60 208.95z" stroke="#0000ff" stroke-width="0.95" fill="none"/><path d="M188.65 217.65h4.10L190.70 213.55z" stroke="#0000ff" stroke-width="0.95" fill="none"/><path d="M202.85 227.05h4.10L204.90 222.95z" stroke="#0000ff" stroke-width="0.95" fill="none"/><path d="M208.35 228.55h4.10L210.40 224.45z" stroke="#0000ff" stroke-width="0.95" fill="none"/><path d="M219.55 232.85h4.10L221.60 228.75z" stroke="#0000ff" stroke-width="0.95" fill="none"/><path d="M232.55 239.55h4.10L234.60 235.45z" stroke="#0000ff" stroke-width="0.95" fill="none"/><path d="M247.55 246.55h4.10L249.60 242.45z" stroke="#0000ff" stroke-width="0.95" fill="none"/><path d="M260.35 252.05h4.10L262.40 247.95z" stroke="#0000ff" stroke-width="0.95" fill="none"/><path d="M279.75 258.55h4.10L281.80 254.45z" stroke="#0000ff" stroke-width="0.95" fill="none"/><path d="M299.85 268.55h4.10L301.90 264.45z" stroke="#0000ff" stroke-width="0.95" fill="none"/><path d="M312.25 268.05h4.10L314.30 263.95z" stroke="#0000ff" stroke-width="0.95" fill="none"/><path d="M319.35 269.05h4.10L321.40 264.95z" stroke="#0000ff" stroke-width="0.95" fill="none"/><path d="M327.35 277.65h4.10L329.40 273.55z" stroke="#0000ff" stroke-width="0.95" fill="none"/><path d="M336.65 279.65h4.10L338.70 275.55z" stroke="#0000ff" stroke-width="0.95" fill="none"/><path d="M341.75 284.55h4.10L343.80 280.45z" stroke="#0000ff" stroke-width="0.95" fill="none"/><path d="M349.85 288.85h4.10L351.90 284.75z" stroke="#0000ff" stroke-width="0.95" fill="none"/><path d="M360.55 304.65h4.10L362.60 300.55z" stroke="#0000ff" stroke-width="0.95" fill="none"/><path d="M376.35 324.35h4.10L378.40 320.25z" stroke="#0000ff" stroke-width="0.95" fill="none"/><path d="M384.35 332.05h4.10L386.40 327.95z" stroke="#0000ff" stroke-width="0.95" fill="none"/><rect x="93.35" y="159.55" width="4.10" height="4.10" stroke="#0000ff" stroke-width="0.95" fill="none"/><rect x="111.55" y="168.25" width="4.10" height="4.10" stroke="#0000ff" stroke-width="0.95" fill="none"/><rect x="133.45" y="175.15" width="4.10" height="4.10" stroke="#0000ff" stroke-width="0.95" fill="none"/><rect x="156.45" y="189.15" width="4.10" height="4.10" stroke="#0000ff" stroke-width="0.95" fill="none"/><rect x="166.85" y="194.95" width="4.10" height="4.10" stroke="#0000ff" stroke-width="0.95" fill="none"/><rect x="180.55" y="203.75" width="4.10" height="4.10" stroke="#0000ff" stroke-width="0.95" fill="none"/><rect x="188.65" y="205.45" width="4.10" height="4.10" stroke="#0000ff" stroke-width="0.95" fill="none"/><rect x="202.85" y="208.65" width="4.10" height="4.10" stroke="#0000ff" stroke-width="0.95" fill="none"/><rect x="208.35" y="210.25" width="4.10" height="4.10" stroke="#0000ff" stroke-width="0.95" fill="none"/><rect x="219.55" y="220.65" width="4.10" height="4.10" stroke="#0000ff" stroke-width="0.95" fill="none"/><rect x="232.55" y="227.15" width="4.10" height="4.10" stroke="#0000ff" stroke-width="0.95" fill="none"/><rect x="247.55" y="235.45" width="4.10" height="4.10" stroke="#0000ff" stroke-width="0.95" fill="none"/><rect x="260.35" y="243.55" width="4.10" height="4.10" stroke="#0000ff" stroke-width="0.95" fill="none"/><rect x="279.75" y="250.55" width="4.10" height="4.10" stroke="#0000ff" stroke-width="0.95" fill="none"/><rect x="299.85" y="258.25" width="4.10" height="4.10" stroke="#0000ff" stroke-width="0.95" fill="none"/><rect x="312.25" y="262.75" width="4.10" height="4.10" stroke="#0000ff" stroke-width="0.95" fill="none"/><rect x="319.35" y="263.75" width="4.10" height="4.10" stroke="#0000ff" stroke-width="0.95" fill="none"/><rect x="336.65" y="273.95" width="4.10" height="4.10" stroke="#0000ff" stroke-width="0.95" fill="none"/><rect x="341.75" y="273.65" width="4.10" height="4.10" stroke="#0000ff" stroke-width="0.95" fill="none"/><rect x="349.85" y="279.15" width="4.10" height="4.10" stroke="#0000ff" stroke-width="0.95" fill="none"/><rect x="360.55" y="287.15" width="4.10" height="4.10" stroke="#0000ff" stroke-width="0.95" fill="none"/><rect x="376.35" y="306.95" width="4.10" height="4.10" stroke="#0000ff" stroke-width="0.95" fill="none"/><rect x="384.35" y="311.45" width="4.10" height="4.10" stroke="#0000ff" stroke-width="0.95" fill="none"/><path d="M93.35 184.95L97.45 189.05M93.35 189.05L97.45 184.95" stroke="#ff8000" stroke-width="0.95" fill="none"/><path d="M111.55 193.45L115.65 197.55M111.55 197.55L115.65 193.45" stroke="#ff8000" stroke-width="0.95" fill="none"/><path d="M133.45 203.65L137.55 207.75M133.45 207.75L137.55 203.65" stroke="#ff8000" stroke-width="0.95" fill="none"/><path d="M156.45 206.45L160.55 210.55M156.45 210.55L160.55 206.45" stroke="#ff8000" stroke-width="0.95" fill="none"/><path d="M166.85 213.45L170.95 217.55M166.85 217.55L170.95 213.45" stroke="#ff8000" stroke-width="0.95" fill="none"/><path d="M180.55 217.95L184.65 222.05M180.55 222.05L184.65 217.95" stroke="#ff8000" stroke-width="0.95" fill="none"/><path d="M188.65 221.45L192.75 225.55M188.65 225.55L192.75 221.45" stroke="#ff8000" stroke-width="0.95" fill="none"/><path d="M202.85 227.45L206.95 231.55M202.85 231.55L206.95 227.45" stroke="#ff8000" stroke-width="0.95" fill="none"/><path d="M208.35 228.95L212.45 233.05M208.35 233.05L212.45 228.95" stroke="#ff8000" stroke-width="0.95" fill="none"/><path d="M219.55 234.45L223.65 238.55M219.55 238.55L223.65 234.45" stroke="#ff8000" stroke-width="0.95" fill="none"/><path d="M232.55 241.25L236.65 245.35M232.55 245.35L236.65 241.25" stroke="#ff8000" stroke-width="0.95" fill="none"/><path d="M247.55 253.25L251.65 257.35M247.55 257.35L251.65 253.25" stroke="#ff8000" stroke-width="0.95" fill="none"/><path d="M260.35 261.85L264.45 265.95M260.35 265.95L264.45 261.85" stroke="#ff8000" stroke-width="0.95" fill="none"/><path d="M279.75 272.95L283.85 277.05M279.75 277.05L283.85 272.95" stroke="#ff8000" stroke-width="0.95" fill="none"/><path d="M299.85 286.75L303.95 290.85M299.85 290.85L303.95 286.75" stroke="#ff8000" stroke-width="0.95" fill="none"/><path d="M312.25 291.85L316.35 295.95M312.25 295.95L316.35 291.85" stroke="#ff8000" stroke-width="0.95" fill="none"/><path d="M319.35 294.35L323.45 298.45M319.35 298.45L323.45 294.35" stroke="#ff8000" stroke-width="0.95" fill="none"/><path d="M327.35 297.75L331.45 301.85M327.35 301.85L331.45 297.75" stroke="#ff8000" stroke-width="0.95" fill="none"/><path d="M336.65 308.85L340.75 312.95M336.65 312.95L340.75 308.85" stroke="#ff8000" stroke-width="0.95" fill="none"/><path d="M341.75 311.85L345.85 315.95M341.75 315.95L345.85 311.85" stroke="#ff8000" stroke-width="0.95" fill="none"/><path d="M349.85 311.55L353.95 315.65M349.85 315.65L353.95 311.55" stroke="#ff8000" stroke-width="0.95" fill="none"/><path d="M360.55 333.45L364.65 337.55M360.55 337.55L364.65 333.45" stroke="#ff8000" stroke-width="0.95" fill="none"/><path d="M376.35 343.45L380.45 347.55M376.35 347.55L380.45 343.45" stroke="#ff8000" stroke-width="0.95" fill="none"/><path d="M93.35 190.20L95.40 188.15L97.45 190.20L95.40 192.25z" stroke="#ff8000" stroke-width="0.95" fill="none"/><path d="M111.55 198.80L113.60 196.75L115.65 198.80L113.60 200.85z" stroke="#ff8000" stroke-width="0.95" fill="none"/><path d="M133.45 203.00L135.50 200.95L137.55 203.00L135.50 205.05z" stroke="#ff8000" stroke-width="0.95" fill="none"/><path d="M156.45 210.30L158.50 208.25L160.55 210.30L158.50 212.35z" stroke="#ff8000" stroke-width="0.95" fill="none"/><path d="M166.85 214.00L168.90 211.95L170.95 214.00L168.90 216.05z" stroke="#ff8000" stroke-width="0.95" fill="none"/><path d="M180.55 218.50L182.60 216.45L184.65 218.50L182.60 220.55z" stroke="#ff8000" stroke-width="0.95" fill="none"/><path d="M188.65 222.50L190.70 220.45L192.75 222.50L190.70 224.55z" stroke="#ff8000" stroke-width="0.95" fill="none"/><path d="M202.85 228.50L204.90 226.45L206.95 228.50L204.90 230.55z" stroke="#ff8000" stroke-width="0.95" fill="none"/><path d="M208.35 230.00L210.40 227.95L212.45 230.00L210.40 232.05z" stroke="#ff8000" stroke-width="0.95" fill="none"/><path d="M219.55 235.50L221.60 233.45L223.65 235.50L221.60 237.55z" stroke="#ff8000" stroke-width="0.95" fill="none"/><path d="M232.55 241.50L234.60 239.45L236.65 241.50L234.60 243.55z" stroke="#ff8000" stroke-width="0.95" fill="none"/><path d="M247.55 249.00L249.60 246.95L251.65 249.00L249.60 251.05z" stroke="#ff8000" stroke-width="0.95" fill="none"/><path d="M260.35 259.50L262.40 257.45L264.45 259.50L262.40 261.55z" stroke="#ff8000" stroke-width="0.95" fill="none"/><path d="M279.75 267.80L281.80 265.75L283.85 267.80L281.80 269.85z" stroke="#ff8000" stroke-width="0.95" fill="none"/><path d="M299.85 286.00L301.90 283.95L303.95 286.00L301.90 288.05z" stroke="#ff8000" stroke-width="0.95" fill="none"/><path d="M312.25 283.20L314.30 281.15L316.35 283.20L314.30 285.25z" stroke="#ff8000" stroke-width="0.95" fill="none"/><path d="M319.35 291.00L321.40 288.95L323.45 291.00L321.40 293.05z" stroke="#ff8000" stroke-width="0.95" fill="none"/><path d="M327.35 296.40L329.40 294.35L331.45 296.40L329.40 298.45z" stroke="#ff8000" stroke-width="0.95" fill="none"/><path d="M336.65 299.50L338.70 297.45L340.75 299.50L338.70 301.55z" stroke="#ff8000" stroke-width="0.95" fill="none"/><path d="M341.75 301.50L343.80 299.45L345.85 301.50L343.80 303.55z" stroke="#ff8000" stroke-width="0.95" fill="none"/><path d="M349.85 310.40L351.90 308.35L353.95 310.40L351.90 312.45z" stroke="#ff8000" stroke-width="0.95" fill="none"/><path d="M360.55 329.80L362.60 327.75L364.65 329.80L362.60 331.85z" stroke="#ff8000" stroke-width="0.95" fill="none"/><path d="M376.35 340.40L378.40 338.35L380.45 340.40L378.40 342.45z" stroke="#ff8000" stroke-width="0.95" fill="none"/><path d="M384.35 348.30L386.40 346.25L388.45 348.30L386.40 350.35z" stroke="#ff8000" stroke-width="0.95" fill="none"/><path d="M93.35 186.55h4.10L95.40 182.45z" stroke="#ff8000" stroke-width="0.95" fill="none"/><path d="M111.55 193.55h4.10L113.60 189.45z" stroke="#ff8000" stroke-width="0.95" fill="none"/><path d="M133.45 200.55h4.10L135.50 196.45z" stroke="#ff8000" stroke-width="0.95" fill="none"/><path d="M156.45 209.05h4.10L158.50 204.95z" stroke="#ff8000" stroke-width="0.95" fill="none"/><path d="M166.85 213.05h4.10L168.90 208.95z" stroke="#ff8000" stroke-width="0.95" fill="none"/><path d="M180.55 218.55h4.10L182.60 214.45z" stroke="#ff8000" stroke-width="0.95" fill="none"/><path d="M188.65 222.55h4.10L190.70 218.45z" stroke="#ff8000" stroke-width="0.95" fill="none"/><path d="M202.85 228.05h4.10L204.90 223.95z" stroke="#ff8000" stroke-width="0.95" fill="none"/><path d="M208.35 230.05h4.10L210.40 225.95z" stroke="#ff8000" stroke-width="0.95" fill="none"/><path d="M219.55 235.55h4.10L221.60 231.45z" stroke="#ff8000" stroke-width="0.95" fill="none"/><path d="M232.55 241.55h4.10L234.60 237.45z" stroke="#ff8000" stroke-width="0.95" fill="none"/><path d="M247.55 248.55h4.10L249.60 244.45z" stroke="#ff8000" stroke-width="0.95" fill="none"/><path d="M260.35 255.55h4.10L262.40 251.45z" stroke="#ff8000" stroke-width="0.95" fill="none"/><path d="M279.75 260.05h4.10L281.80 255.95z" stroke="#ff8000" stroke-width="0.95" fill="none"/><path d="M299.85 265.55h4.10L301.90 261.45z" stroke="#ff8000" stroke-width="0.95" fill="none"/><path d="M312.25 272.85h4.10L314.30 268.75z" stroke="#ff8000" stroke-width="0.95" fill="none"/><path d="M319.35 275.05h4.10L321.40 270.95z" stroke="#ff8000" stroke-width="0.95" fill="none"/><path d="M327.35 281.65h4.10L329.40 277.55z" stroke="#ff8000" stroke-width="0.95" fill="none"/><path d="M336.65 285.35h4.10L338.70 281.25z" stroke="#ff8000" stroke-width="0.95" fill="none"/><path d="M341.75 291.65h4.10L343.80 287.55z" stroke="#ff8000" stroke-width="0.95" fill="none"/><path d="M349.85 296.85h4.10L351.90 292.75z" stroke="#ff8000" stroke-width="0.95" fill="none"/><path d="M360.55 309.15h4.10L362.60 305.05z" stroke="#ff8000" stroke-width="0.95" fill="none"/><path d="M376.35 324.65h4.10L378.40 320.55z" stroke="#ff8000" stroke-width="0.95" fill="none"/><path d="M384.35 337.25h4.10L386.40 333.15z" stroke="#ff8000" stroke-width="0.95" fill="none"/><rect x="93.35" y="178.95" width="4.10" height="4.10" stroke="#ff8000" stroke-width="0.95" fill="none"/><rect x="111.55" y="187.65" width="4.10" height="4.10" stroke="#ff8000" stroke-width="0.95" fill="none"/><rect x="133.45" y="192.95" width="4.10" height="4.10" stroke="#ff8000" stroke-width="0.95" fill="none"/><rect x="156.45" y="200.45" width="4.10" height="4.10" stroke="#ff8000" stroke-width="0.95" fill="none"/><rect x="166.85" y="204.25" width="4.10" height="4.10" stroke="#ff8000" stroke-width="0.95" fill="none"/><rect x="180.55" y="209.15" width="4.10" height="4.10" stroke="#ff8000" stroke-width="0.95" fill="none"/><rect x="188.65" y="216.45" width="4.10" height="4.10" stroke="#ff8000" stroke-width="0.95" fill="none"/><rect x="202.85" y="220.95" width="4.10" height="4.10" stroke="#ff8000" stroke-width="0.95" fill="none"/><rect x="208.35" y="223.45" width="4.10" height="4.10" stroke="#ff8000" stroke-width="0.95" fill="none"/><rect x="219.55" y="229.45" width="4.10" height="4.10" stroke="#ff8000" stroke-width="0.95" fill="none"/><rect x="232.55" y="235.45" width="4.10" height="4.10" stroke="#ff8000" stroke-width="0.95" fill="none"/><rect x="247.55" y="241.95" width="4.10" height="4.10" stroke="#ff8000" stroke-width="0.95" fill="none"/><rect x="260.35" y="248.85" width="4.10" height="4.10" stroke="#ff8000" stroke-width="0.95" fill="none"/><rect x="279.75" y="253.45" width="4.10" height="4.10" stroke="#ff8000" stroke-width="0.95" fill="none"/><rect x="299.85" y="260.25" width="4.10" height="4.10" stroke="#ff8000" stroke-width="0.95" fill="none"/><rect x="312.25" y="262.35" width="4.10" height="4.10" stroke="#ff8000" stroke-width="0.95" fill="none"/><rect x="319.35" y="264.15" width="4.10" height="4.10" stroke="#ff8000" stroke-width="0.95" fill="none"/><rect x="336.65" y="275.15" width="4.10" height="4.10" stroke="#ff8000" stroke-width="0.95" fill="none"/><rect x="341.75" y="277.45" width="4.10" height="4.10" stroke="#ff8000" stroke-width="0.95" fill="none"/><rect x="349.85" y="281.95" width="4.10" height="4.10" stroke="#ff8000" stroke-width="0.95" fill="none"/><rect x="360.55" y="291.75" width="4.10" height="4.10" stroke="#ff8000" stroke-width="0.95" fill="none"/><rect x="376.35" y="309.25" width="4.10" height="4.10" stroke="#ff8000" stroke-width="0.95" fill="none"/><rect x="384.35" y="313.45" width="4.10" height="4.10" stroke="#ff8000" stroke-width="0.95" fill="none"/></g></svg></body></html>
